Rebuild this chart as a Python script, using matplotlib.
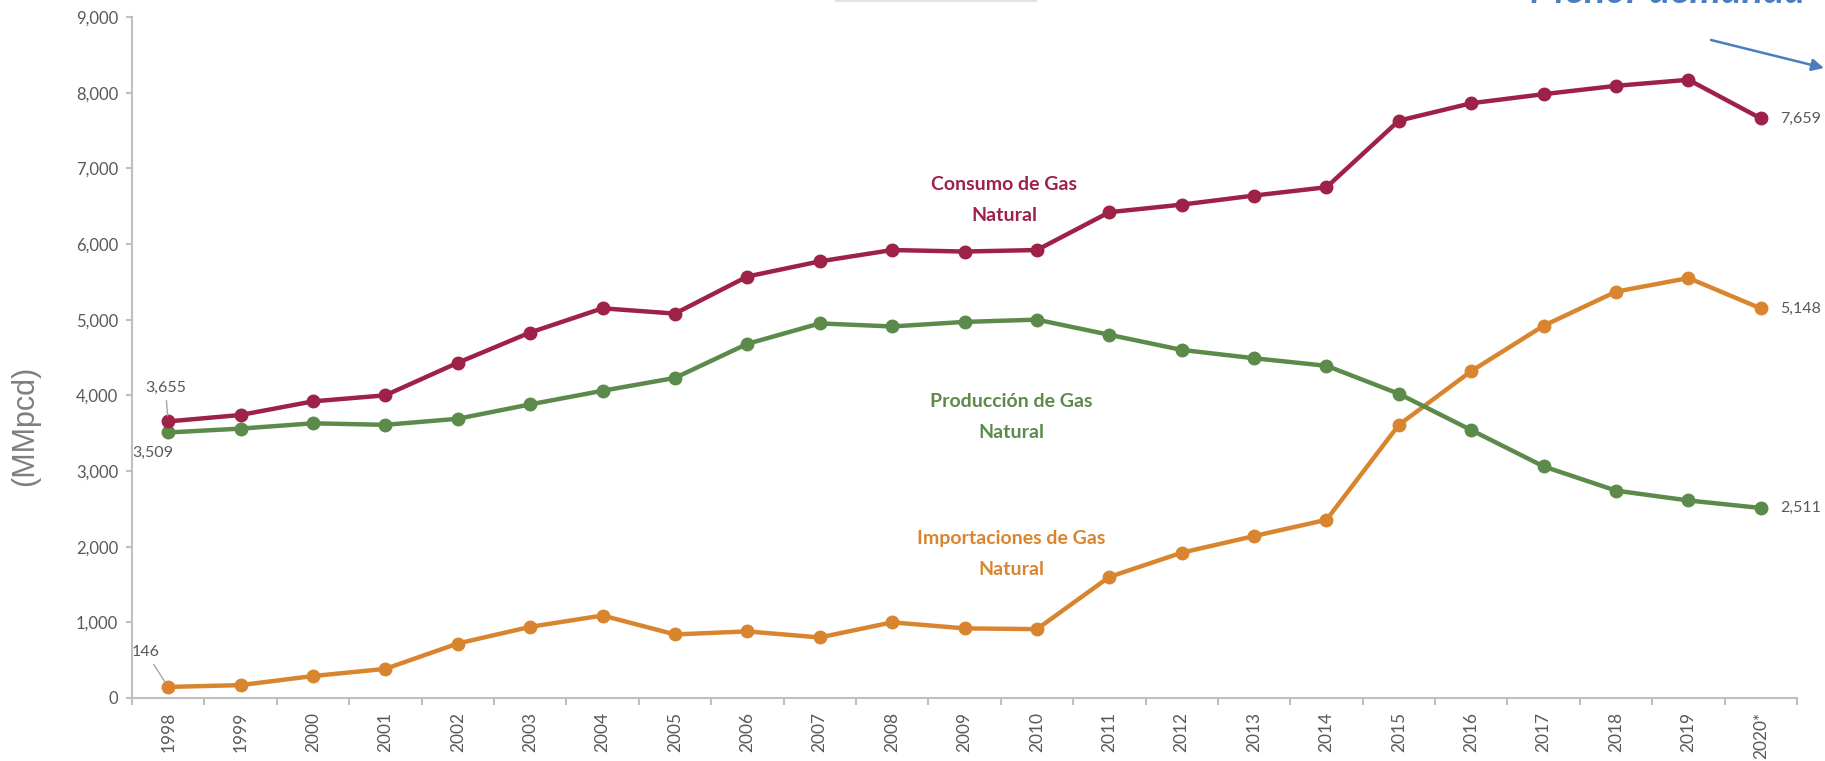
import matplotlib.pyplot as plt
from matplotlib.lines import Line2D
from matplotlib.ticker import FuncFormatter, FixedLocator

# --- datos (MMpcd)
years = ["1998", "1999", "2000", "2001", "2002", "2003", "2004", "2005", "2006", "2007",
         "2008", "2009", "2010", "2011", "2012", "2013", "2014", "2015", "2016", "2017",
         "2018", "2019", "2020*"]
consumo = [3655, 3740, 3920, 4000, 4430, 4830, 5150, 5080, 5570, 5770,
           5920, 5900, 5920, 6420, 6520, 6640, 6750, 7630, 7860, 7980,
           8090, 8170, 7659]
produccion = [3509, 3560, 3630, 3610, 3690, 3880, 4060, 4230, 4680, 4950,
              4910, 4970, 5000, 4800, 4600, 4490, 4390, 4020, 3540, 3060,
              2740, 2610, 2511]
importaciones = [146, 170, 290, 385, 720, 940, 1090, 840, 880, 800,
                 1000, 920, 910, 1600, 1920, 2140, 2355, 3610, 4320, 4920,
                 5370, 5550, 5148]

c_cons = "#9E2148"
c_prod = "#5B8A4A"
c_imp = "#D9852F"
gris = "#595959"

plt.rcParams['font.family'] = ['Lato', 'DejaVu Sans']

fig = plt.figure(figsize=(18.25, 7.61), dpi=100)
ax = fig.add_axes([0.0723, 0.0828, 0.9124, 0.8949])

x = list(range(len(years)))
for serie, col in [(importaciones, c_imp), (produccion, c_prod), (consumo, c_cons)]:
    ax.plot(x, serie, color=col, lw=3.2, marker="o", ms=9, solid_capstyle="round")

ax.set_xlim(-0.5, len(years) - 0.5)
ax.set_ylim(0, 9000)

# --- ejes
for s in ["top", "right"]:
    ax.spines[s].set_visible(False)
for s in ["left", "bottom"]:
    ax.spines[s].set_color("#BFBFBF")
    ax.spines[s].set_linewidth(1.5)

ax.set_yticks(range(0, 9001, 1000))
ax.yaxis.set_major_formatter(FuncFormatter(lambda v, p: f"{int(v):,}"))
ax.tick_params(axis="y", colors="#BFBFBF", length=4, width=1.5, pad=6, labelsize=12, labelcolor=gris)

ax.set_xticks(x)
ax.set_xticklabels(years, rotation=90, fontsize=12.5, color=gris)
ax.tick_params(axis="x", which="major", length=0, pad=10)
ax.xaxis.set_minor_locator(FixedLocator([i - 0.5 for i in range(len(years) + 1)]))
ax.tick_params(axis="x", which="minor", colors="#BFBFBF", length=5, width=1.5)

fig.text(0.014, 0.44, "(MMpcd)", rotation=90, ha="center", va="center",
         fontsize=22, color="#7F7F7F", family="Liberation Sans")

# --- etiquetas de series
ax.text(11.55, 6580, "Consumo de Gas\nNatural", ha="center", va="center", fontsize=14,
        fontweight="bold", color=c_cons, linespacing=2.0)
ax.text(11.65, 3710, "Producción de Gas\nNatural", ha="center", va="center", fontsize=14,
        fontweight="bold", color=c_prod, linespacing=2.0)
ax.text(11.65, 1900, "Importaciones de Gas\nNatural", ha="center", va="center", fontsize=14,
        fontweight="bold", color=c_imp, linespacing=2.0)

# --- etiquetas de datos
lead = dict(arrowstyle="-", color="#A6A6A6", lw=1, shrinkA=2, shrinkB=4)
ax.annotate(f"{consumo[0]:,}", (0, consumo[0]), xytext=(-2, 24), textcoords="offset points",
            ha="center", va="center", fontsize=11.5, color=gris, arrowprops=lead)
ax.annotate(f"{produccion[0]:,}", (0, produccion[0]), xytext=(-11, -15), textcoords="offset points",
            ha="center", va="center", fontsize=11.5, color=gris)
ax.annotate(f"{importaciones[0]:,}", (0, importaciones[0]), xytext=(-16, 25), textcoords="offset points",
            ha="center", va="center", fontsize=11.5, color=gris, arrowprops=lead)
last = len(years) - 1
for serie in [consumo, importaciones, produccion]:
    ax.annotate(f"{serie[last]:,}", (last, serie[last]), xytext=(14, 0), textcoords="offset points",
                ha="left", va="center", fontsize=11.5, color=gris)

# --- elementos recortados arriba
fig.text(1530 / 1825, 1 - 3 / 761, "Menor demanda", ha="left", va="baseline", fontsize=28.5,
         fontweight="bold", style="italic", color="#4A7EBF")
fig.add_artist(Line2D([836 / 1825, 1036 / 1825], [1 - 1 / 761, 1 - 1 / 761],
                      transform=fig.transFigure, color="#E3E3E3", lw=1.5))
ax.annotate("", xy=(1824 / 1825, 1 - 68 / 761), xytext=(1711 / 1825, 1 - 40 / 761),
            xycoords="figure fraction", textcoords="figure fraction",
            arrowprops=dict(arrowstyle="-|>", color="#4A7EBF", lw=1.8, mutation_scale=18,
                            shrinkA=0, shrinkB=0))

fig.savefig("out.png", dpi=100)
